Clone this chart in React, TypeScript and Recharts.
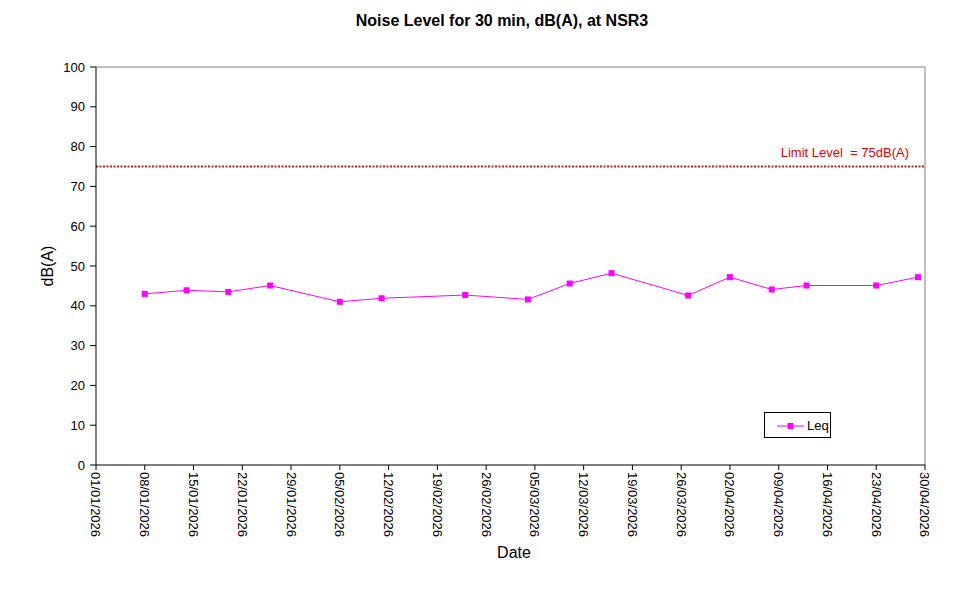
import React from "react";
import {
  LineChart,
  Line,
  XAxis,
  YAxis,
  ReferenceLine,
} from "recharts";

const MEASURE_DATES = [
  "08/01/2026", "14/01/2026", "20/01/2026", "26/01/2026",
  "05/02/2026", "11/02/2026", "23/02/2026", "04/03/2026",
  "10/03/2026", "16/03/2026", "27/03/2026", "02/04/2026",
  "08/04/2026", "13/04/2026", "23/04/2026", "29/04/2026",
];
const LEQ = [43.0, 43.9, 43.5, 45.1, 41.0, 41.9, 42.7, 41.6, 45.6, 48.2, 42.6, 47.2, 44.1, 45.1, 45.1, 47.2];

const X_TICKS = [
  "01/01/2026", "08/01/2026", "15/01/2026", "22/01/2026", "29/01/2026",
  "05/02/2026", "12/02/2026", "19/02/2026", "26/02/2026", "05/03/2026",
  "12/03/2026", "19/03/2026", "26/03/2026", "02/04/2026", "09/04/2026",
  "16/04/2026", "23/04/2026", "30/04/2026",
];
const Y_TICKS = [0, 10, 20, 30, 40, 50, 60, 70, 80, 90, 100];
const LIMIT = 75;

const FONT = "'Liberation Sans', Arial, sans-serif";
const MAGENTA = "#FF00FF";

// dd/mm/yyyy -> days since 01/01/2026
const START = Date.UTC(2026, 0, 1);
function toDay(s: string) {
  const [d, m, y] = s.split("/").map(Number);
  return Math.round((Date.UTC(y, m - 1, d) - START) / 86400000);
}
const dayLabel: Record<number, string> = {};
X_TICKS.forEach((t) => (dayLabel[toDay(t)] = t));
const tickDays = X_TICKS.map(toDay);
const lastDay = tickDays[tickDays.length - 1];

const data = MEASURE_DATES.map((d, i) => ({ day: toDay(d), leq: LEQ[i] }));

function DateTick(props: any) {
  const { x, y, payload } = props;
  return (
    <text
      x={x}
      y={y}
      dy="0.35em"
      textAnchor="start"
      fontSize={13}
      fontFamily={FONT}
      fill="#000"
      transform={`rotate(90 ${x} ${y})`}
    >
      {dayLabel[payload.value]}
    </text>
  );
}

function SquareDot(props: any) {
  const { cx, cy } = props;
  if (cx == null || cy == null) return null;
  return <rect x={cx - 3} y={cy - 3} width={6} height={6} fill={MAGENTA} />;
}

export default function App() {
  return (
    <div style={{ position: "absolute", left: 0, top: 0, width: 967, height: 590, background: "#fff" }}>
      <div
        style={{
          position: "absolute",
          left: 502,
          top: 12,
          transform: "translateX(-50%)",
          whiteSpace: "nowrap",
          fontFamily: FONT,
          fontWeight: "bold",
          fontSize: 16,
          color: "#000",
        }}
      >
        Noise Level for 30 min, dB(A), at NSR3
      </div>
      <LineChart
        width={967}
        height={590}
        data={data}
        margin={{ top: 67, right: 42, left: 0, bottom: 0 }}
      >
        <XAxis
          type="number"
          dataKey="day"
          domain={[0, lastDay]}
          ticks={tickDays}
          interval={0}
          height={125}
          tickSize={5}
          tickMargin={2}
          tick={<DateTick />}
          stroke="#000"
          allowDataOverflow
          label={() => (
            <text x={514} y={558} textAnchor="middle" fontSize={16} fontFamily={FONT} fill="#000">
              Date
            </text>
          )}
        />
        <YAxis
          type="number"
          domain={[0, 100]}
          ticks={Y_TICKS}
          interval={0}
          width={96}
          tickSize={6}
          tickMargin={5}
          stroke="#000"
          tick={{ fontSize: 13, fontFamily: FONT, fill: "#000" }}
          label={() => (
            <text
              x={47}
              y={266}
              textAnchor="middle"
              dy="0.35em"
              fontSize={16}
              fontFamily={FONT}
              fill="#000"
              transform="rotate(-90 47 266)"
            >
              dB(A)
            </text>
          )}
        />
        <ReferenceLine y={100} stroke="#808080" strokeWidth={1} />
        <ReferenceLine x={lastDay} stroke="#808080" strokeWidth={1} />
        <ReferenceLine
          y={LIMIT}
          stroke="#B22222"
          strokeWidth={2}
          strokeDasharray="2 1.5"
          label={(p: any) => {
            const vb = p.viewBox || {};
            return (
              <text
                x={(vb.x ?? 96) + (vb.width ?? 829) - 16}
                y={(vb.y ?? 166) - 10}
                textAnchor="end"
                fontSize={13}
                fontFamily={FONT}
                fill="#E00000"
                style={{ whiteSpace: "pre" }}
                xmlSpace="preserve"
              >
                {"Limit Level  = 75dB(A)"}
              </text>
            );
          }}
        />
        <Line
          type="linear"
          dataKey="leq"
          stroke={MAGENTA}
          strokeWidth={1}
          dot={<SquareDot />}
          activeDot={false}
          isAnimationActive={false}
        />
      </LineChart>
      <div
        style={{
          position: "absolute",
          left: 764,
          top: 412,
          width: 65,
          height: 24,
          border: "1px solid #000",
          background: "#fff",
          display: "flex",
          alignItems: "center",
          fontFamily: FONT,
          fontSize: 13,
          color: "#000",
        }}
      >
        <svg width={42} height={24} style={{ display: "block" }}>
          <line x1={12} y1={13} x2={39} y2={13} stroke={MAGENTA} strokeWidth={1} />
          <rect x={22.5} y={10} width={6} height={6} fill={MAGENTA} />
        </svg>
        <span style={{ whiteSpace: "pre" }}>Leq</span>
      </div>
    </div>
  );
}
